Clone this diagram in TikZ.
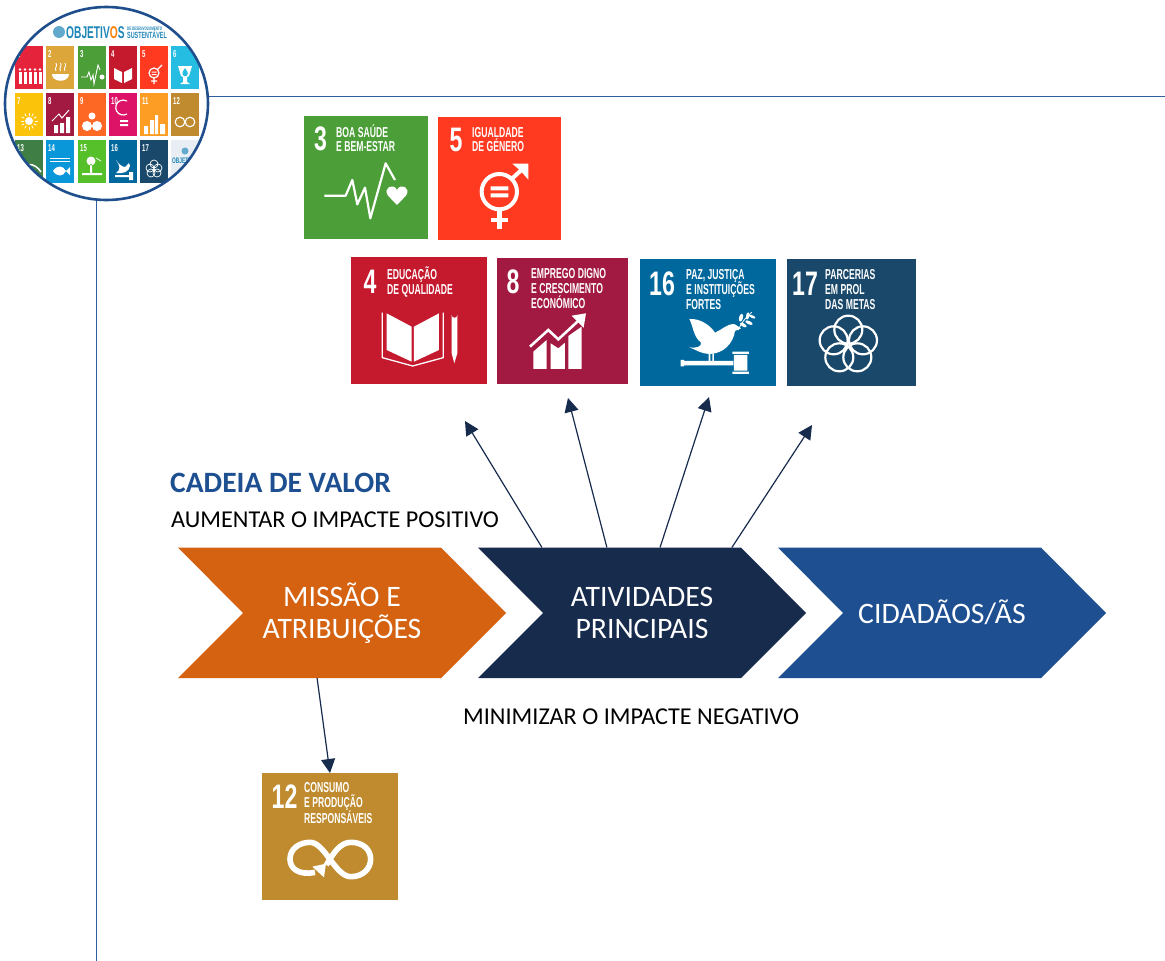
\documentclass[tikz,border=0pt]{standalone}
\usepackage{fontspec}
\usetikzlibrary{arrows.meta,calc}
\setmainfont{Carlito}
\newfontfamily\sdgfont[FakeStretch=0.6]{Liberation Sans}
\newfontfamily\sdgnumfont[FakeStretch=0.68]{Liberation Sans}
\definecolor{lineblue}{HTML}{2F5E9E}
\definecolor{ringblue}{HTML}{1F4E8C}
\definecolor{orangec}{HTML}{D46211}
\definecolor{navyc}{HTML}{172B4D}
\definecolor{bluec}{HTML}{1D4F91}
\definecolor{s1}{HTML}{E5243B}
\definecolor{s2}{HTML}{DDA63A}
\definecolor{s3}{HTML}{4C9F38}
\definecolor{s4}{HTML}{C5192D}
\definecolor{s5}{HTML}{FF3A21}
\definecolor{s6}{HTML}{26BDE2}
\definecolor{s7}{HTML}{FCC30B}
\definecolor{s8}{HTML}{A21942}
\definecolor{s9}{HTML}{FD6925}
\definecolor{s10}{HTML}{DD1367}
\definecolor{s11}{HTML}{FD9D24}
\definecolor{s12}{HTML}{BF8B2E}
\definecolor{s13}{HTML}{3F7E44}
\definecolor{s14}{HTML}{0A97D9}
\definecolor{s15}{HTML}{56C02B}
\definecolor{s16}{HTML}{00689D}
\definecolor{s17}{HTML}{19486A}
\definecolor{s18}{HTML}{E8EEF4}
\definecolor{logotext}{HTML}{1F86B8}
\tikzset{
  tilebox/.style={inner sep=0pt,outer sep=0pt},
  numtext/.style={inner sep=0pt,anchor=base west,text=white,font=\sdgnumfont\bfseries\fontsize{34}{34}\selectfont},
  lbltext/.style={inner sep=0pt,anchor=base west,text=white,font=\sdgfont\bfseries\fontsize{14.4}{14.4}\selectfont},
  chevtext/.style={inner sep=0pt,outer sep=0pt,minimum width=328pt,minimum height=130.5pt,align=center,text=white,font=\fontsize{29.7}{32}\selectfont},
  plaintext/.style={inner sep=0pt,anchor=base west,text=black,font=\fontsize{24.2}{26}\selectfont},
  flowarrow/.style={draw=navyc,line width=1.2pt,-{Triangle[length=14pt,width=14pt,fill=navyc]}},
  rule/.style={draw=lineblue,line width=0.8pt},
  lnum/.style={inner sep=0pt,anchor=base west,text=white,font=\sdgfont\bfseries\fontsize{10}{10}\selectfont}
}
\newcommand{\sdgtile}[6]{\node[tilebox,fill=#6,minimum width={(#4-#2)*1pt},minimum height={(#5-#3)*1pt}] (#1) at ({(#2+#4)/2},{(#3+#5)/2}) {};}
\newcommand{\sdgnum}[4]{\node[numtext] (#1num) at (#2,#3) {#4};}
\newcommand{\sdglines}[5]{\foreach \tl [count=\ti] in {#5} {\node[lbltext] (#1line\ti) at (#2,{#3+(\ti-1)*#4}) {\tl};}}
\newcommand{\chev}[4]{\fill[#3] (#2,547.5) -- ({#2+263},547.5) -- ({#2+328},613) -- ({#2+263},678) -- (#2,678) -- ({#2+65},613) -- cycle;
  \node[chevtext] (#1) at ({#2+164},612.75) {#4};}
\begin{document}
\begin{tikzpicture}[x=1pt,y=-1pt]
\useasboundingbox (0,0) rectangle (1165,961);
\fill[white] (0,0) rectangle (1165,961);
% rules
\coordinate (hstart) at (150,96.7);
\coordinate (hend) at (1165,96.7);
\coordinate (vstart) at (96.7,150);
\coordinate (vend) at (96.7,961);
\draw[rule] (hstart) -- (hend);
\draw[rule] (vstart) -- (vend);
% logo
\fill[white] (106.5,103.5) ellipse [x radius=101.5,y radius=96.5];
\begin{scope}
\clip (106.5,103.5) ellipse [x radius=101.5,y radius=96.5];
\foreach \nn/\xx/\yy in {1/15/46,2/46/46,3/78/46,4/109/46,5/140/46,6/171/46,
  7/15/93,8/46/93,9/78/93,10/109/93,11/140/93,12/171/93,
  13/15/140,14/46/140,15/78/140,16/109/140,17/140/140} {
  \fill[s\nn] (\xx,\yy) rectangle ++(28,42.5);
  \node[lnum] (logon\nn) at (\xx+2,\yy+11) {\nn};
}
\fill[s18] (171,140) rectangle ++(28,42.5);
\fill[logotext!70] (185,151) circle (3.5);
\node[inner sep=0pt,text=logotext,font=\sdgfont\bfseries\fontsize{8}{8}\selectfont,anchor=base west] (logotile) at (172,163) {OBJETIVOS};
% header
\fill[logotext!70] (59,32) circle (6);
\node[inner sep=0pt,anchor=base west,text=logotext,font=\sdgfont\bfseries\fontsize{17}{17}\selectfont] (logohead) at (66,38) {OBJETIV\textcolor{orange}{O}S};
\node[inner sep=0pt,anchor=base west,text=logotext,font=\sdgfont\bfseries\fontsize{5}{5}\selectfont] (logohead2) at (127,30) {DE DESENVOLVIMENTO};
\node[inner sep=0pt,anchor=base west,text=logotext,font=\sdgfont\bfseries\fontsize{9}{9}\selectfont] (logohead3) at (127,38) {SUSTENTÁVEL};
% small icons
\begin{scope}[shift={(15,46)}]
 \foreach \px in {5,10,15,20,25} {\fill[white] (\px-1.5,26) rectangle (\px+1.5,38); \fill[white] (\px,23.5) circle (1.4);}
\end{scope}
\begin{scope}[shift={(46,46)}]
 \fill[white] (6,28) -- (23,28) .. controls (23,37) and (6,37) .. cycle;
 \draw[white,line width=.9pt] (10,25) .. controls (8,22) and (12,20) .. (10,17) (14.5,25) .. controls (12.5,22) and (16.5,20) .. (14.5,17) (19,25) .. controls (17,22) and (21,20) .. (19,17);
\end{scope}
\begin{scope}[shift={(78,46)}]
 \draw[white,line width=.9pt] (3,31) -- (9,31) -- (11,26) -- (13,34) -- (15,29) -- (16,38) -- (20,19) -- (22,24);
 \fill[white] (24,31) circle (2.5);
\end{scope}
\begin{scope}[shift={(109,46)}]
 \fill[white] (5,22) -- (13,26) -- (13,37) -- (5,33) -- cycle (15,26) -- (23,22) -- (23,33) -- (15,37) -- cycle;
\end{scope}
\begin{scope}[shift={(140,46)}]
 \draw[white,line width=1.2pt] (14,27) circle (5) (18,23) -- (22,19) (14,32) -- (14,38) (11,35) -- (17,35);
 \fill[white] (11.5,25.5) rectangle (16.5,26.5) (11.5,28) rectangle (16.5,29);
\end{scope}
\begin{scope}[shift={(171,46)}]
 \fill[white] (7,20) -- (21,20) -- (18,30) -- (16,31) -- (16,36) -- (19,38) -- (9,38) -- (12,36) -- (12,31) -- (10,30) -- cycle;
 \fill[s6] (14,22) -- (16.5,26) arc (-30:210:2.8) -- cycle;
\end{scope}
\begin{scope}[shift={(15,93)}]
 \fill[white] (14,28) circle (4);
 \foreach \ang in {0,30,...,330} {\draw[white,line width=.8pt] (14,28) ++(\ang:5.5) -- ++(\ang:3);}
\end{scope}
\begin{scope}[shift={(46,93)}]
 \fill[white] (8,32) rectangle (12,40) (14,30) rectangle (18,40) (20,24) rectangle (24,40);
 \draw[white,line width=1pt] (6,28) -- (13,21) -- (16,25) -- (23,17);
\end{scope}
\begin{scope}[shift={(78,93)}]
 \fill[white] (14,23) circle (3.5) (9,33) circle (5) (19,33) circle (5);
\end{scope}
\begin{scope}[shift={(109,93)}]
 \draw[white,line width=1.2pt] (18,21) arc (60:300:7.5);
 \fill[white] (11,27) rectangle (19,29) (11,31) rectangle (19,33);
\end{scope}
\begin{scope}[shift={(140,93)}]
 \fill[white] (4,33) rectangle (8,41) (10,27) rectangle (14,41) (15,22) rectangle (18,41) (20,31) rectangle (25,41);
\end{scope}
\begin{scope}[shift={(171,93)}]
 \draw[white,line width=1.1pt] (9,29) circle (4.8) (19,29) circle (4.8);
\end{scope}
\begin{scope}[shift={(15,140)}]
 \draw[white,line width=1.5pt] (3,32) .. controls (8,22) and (20,22) .. (26,32);
 \fill[white] (14,33) circle (4);
\end{scope}
\begin{scope}[shift={(46,140)}]
 \draw[white,line width=.8pt] (4,18) -- (24,18) (4,21) -- (24,21);
 \fill[white] (7,31) .. controls (11,25) and (17,25) .. (20,31) -- (24,27) -- (24,35) -- (20,31) .. controls (17,37) and (11,37) .. (7,31) -- cycle;
\end{scope}
\begin{scope}[shift={(78,140)}]
 \fill[white] (13,21) circle (4.5) (12,24) rectangle (14,33) (4,33) rectangle (24,35);
 \draw[white,line width=.7pt] (18,18) -- (23,21);
\end{scope}
\begin{scope}[shift={(109,140)}]
 \fill[white] (7,20) .. controls (10,24) and (13,27) .. (16,27) -- (20,23) -- (21,26) .. controls (20,32) and (14,34) .. (7,33) .. controls (12,30) and (11,25) .. (7,20) -- cycle;
 \fill[white] (6,35) rectangle (22,37) (20,32) rectangle (24,40);
\end{scope}
\begin{scope}[shift={(140,140)}]
 \draw[white,line width=.7pt] (14,24) circle (4) (10,28) circle (4) (18,28) circle (4) (11,33) circle (4) (17,33) circle (4);
\end{scope}
\end{scope}
\draw[ringblue,line width=2.6pt] (106.5,103.5) ellipse [x radius=101.5,y radius=96.5];
% top row tiles
\sdgtile{t3}{303.5}{115.5}{428}{239}{s3}
\sdgnum{t3}{314}{150}{3}
\sdglines{t3}{336}{137.5}{13.8}{BOA SAÚDE,E BEM-ESTAR}
\begin{scope}[shift={(295,105)},x=0.3333pt,y=-0.3333pt]
 \draw[white,line width=2.2pt,line join=round] (88,272) -- (152,272) -- (172,225) -- (187,298) -- (210,248) -- (226,340) -- (272,175) -- (300,225);
 \fill[white] (306,300) -- (279,272) .. controls (262,248) and (296,232) .. (306,255) .. controls (316,232) and (350,248) .. (333,272) -- cycle;
\end{scope}
\sdgtile{t5}{438}{117}{561}{240}{s5}
\sdgnum{t5}{449.5}{151}{5}
\sdglines{t5}{472}{137.3}{14.4}{IGUALDADE,DE GÉNERO}
\begin{scope}[shift={(295,105)},x=0.3333pt,y=-0.3333pt]
 \draw[white,line width=4pt] (613,260) circle [radius=53];
 \draw[white,line width=4pt] (650,222) -- (690,185);
 \fill[white] (652,176) -- (700,176) -- (700,224) -- (686,208) -- (668,190) -- cycle;
 \draw[white,line width=4.5pt] (613,318) -- (613,372) (588,345) -- (640,345);
 \fill[white] (587,244) rectangle (640,256) (587,265) rectangle (640,277);
\end{scope}
% second row tiles
\sdgtile{t4}{351}{257}{487}{384}{s4}
\sdgnum{t4}{363.5}{293}{4}
\sdglines{t4}{387}{279}{15}{EDUCAÇÃO,DE QUALIDADE}
\begin{scope}[shift={(345,250)},x=0.3333pt,y=-0.3333pt]
 \fill[white] (125,190) -- (200,230) -- (200,335) -- (125,300) -- cycle (207,230) -- (282,190) -- (282,300) -- (207,335) -- cycle;
 \draw[white,line width=1.3pt] (112,188) -- (112,323) -- (203,348) -- (295,323) -- (295,188);
 \fill[white] (320,195) arc (180:0:8.5) -- (337,310) -- (328,340) -- (320,310) -- cycle;
\end{scope}
\sdgtile{t8}{497}{258}{628}{384}{s8}
\sdgnum{t8}{506.5}{293}{8}
\sdglines{t8}{531}{278}{15}{EMPREGO DIGNO,E CRESCIMENTO,ECONÓMICO}
\begin{scope}[shift={(345,250)},x=0.3333pt,y=-0.3333pt]
 \fill[white] (565,305) -- (605,270) -- (605,357) -- (565,357) -- cycle (617,280) -- (640,295) -- (660,278) -- (660,357) -- (617,357) -- cycle (670,258) -- (710,230) -- (710,357) -- (670,357) -- cycle;
 \draw[s8,line width=5pt] (548,288) -- (610,232) -- (640,260) -- (700,205);
 \draw[white,line width=2.6pt] (555,290) -- (610,240) -- (640,268) -- (705,208);
 \fill[white] (680,197) -- (723,190) -- (716,233) -- cycle;
\end{scope}
\sdgtile{t16}{640}{259}{776}{386}{s16}
\sdgnum{t16}{649}{295}{16}
\sdglines{t16}{686}{279}{15}{{PAZ, JUSTIÇA},E INSTITUIÇÕES,FORTES}
\begin{scope}[shift={(635,250)},x=0.3333pt,y=-0.3333pt]
 \fill[white] (163,207) .. controls (195,205) and (225,225) .. (240,248) .. controls (260,240) and (275,222) .. (298,222) -- (318,235) -- (300,243) .. controls (295,280) and (265,312) .. (222,312) .. controls (200,312) and (180,298) .. (163,292) .. controls (185,295) and (200,290) .. (198,278) .. controls (175,260) and (175,230) .. (163,207) -- cycle;
 \fill[white] (221,310) rectangle (226,335) (232,310) rectangle (237,335);
 \fill[white] (137,330) rectangle (147,349) (147,333) rectangle (295,346);
 \fill[white] (292,305) rectangle (342,312) (297,315) rectangle (337,362) (292,365) rectangle (342,372);
 \draw[white,line width=.8pt] (310,240) .. controls (318,220) and (330,205) .. (350,187);
 \fill[white] (318,203) ellipse [x radius=6,y radius=12,rotate=-15] (338,198) ellipse [x radius=5,y radius=11,rotate=-10] (342,218) ellipse [x radius=12,y radius=5,rotate=-25] (352,200) ellipse [x radius=10,y radius=4,rotate=-25] (325,225) ellipse [x radius=11,y radius=5,rotate=-30];
\end{scope}
\sdgtile{t17}{787}{259}{916}{386}{s17}
\sdgnum{t17}{792}{295}{17}
\sdglines{t17}{825}{279}{15}{PARCERIAS,EM PROL,DAS METAS}
\begin{scope}[shift={(635,250)},x=0.3333pt,y=-0.3333pt]
 \foreach \dx/\dy in {0/-46,44/-14,27/37,-27/37,-44/-14} {\draw[white,line width=2.2pt] (640+\dx,285+\dy) circle [radius=42];}
\end{scope}
% chevrons
\chev{miss}{178}{orangec}{MISSÃO E\\ATRIBUIÇÕES}
\chev{ativ}{478}{navyc}{ATIVIDADES\\PRINCIPAIS}
\chev{cida}{778}{bluec}{CIDADÃOS/ÃS}
% texts
\node[inner sep=0pt,anchor=base west,text=bluec,font=\bfseries\fontsize{29.5}{29.5}\selectfont] (title) at (170,492) {CADEIA DE VALOR};
\node[plaintext] (aum) at (171,527) {AUMENTAR O IMPACTE POSITIVO};
\node[plaintext] (mini) at (463,724) {MINIMIZAR O IMPACTE NEGATIVO};
% tile 12
\sdgtile{t12}{262}{773}{398}{900}{s12}
\sdgnum{t12}{271.5}{808}{12}
\sdglines{t12}{304}{792}{15.5}{CONSUMO,E PRODUÇÃO,RESPONSÁVEIS}
\begin{scope}[shift={(255,765)},x=0.3333pt,y=-0.3333pt]
 \draw[white,line width=5.6pt] (180,322) .. controls (130,332) and (105,310) .. (105,282) .. controls (105,250) and (135,232) .. (165,232) .. controls (210,232) and (240,335) .. (288,335) .. controls (325,335) and (347,310) .. (347,282) .. controls (347,255) and (325,232) .. (288,232) .. controls (255,232) and (235,265) .. (214,300);
 \fill[white] (172,305) -- (213,296) -- (207,337) -- cycle;
\end{scope}
% connectors
\coordinate (a1s) at ($(ativ.north west)!.195!(ativ.north east)$);
\coordinate (a2s) at ($(ativ.north west)!.393!(ativ.north east)$);
\coordinate (a3s) at ($(ativ.north west)!.555!(ativ.north east)$);
\coordinate (a4s) at ($(ativ.north west)!.774!(ativ.north east)$);
\coordinate (a1e) at (465,421);
\coordinate (a2e) at (568,398);
\coordinate (a3e) at (709,397);
\coordinate (a4e) at (812,425);
\coordinate (m1s) at ($(miss.south west)!.424!(miss.south east)$);
\draw[flowarrow] (a1s) -- (a1e);
\draw[flowarrow] (a2s) -- (a2e);
\draw[flowarrow] (a3s) -- (a3e);
\draw[flowarrow] (a4s) -- (a4e);
\draw[flowarrow] (m1s) -- (t12.north);
\end{tikzpicture}
\end{document}
